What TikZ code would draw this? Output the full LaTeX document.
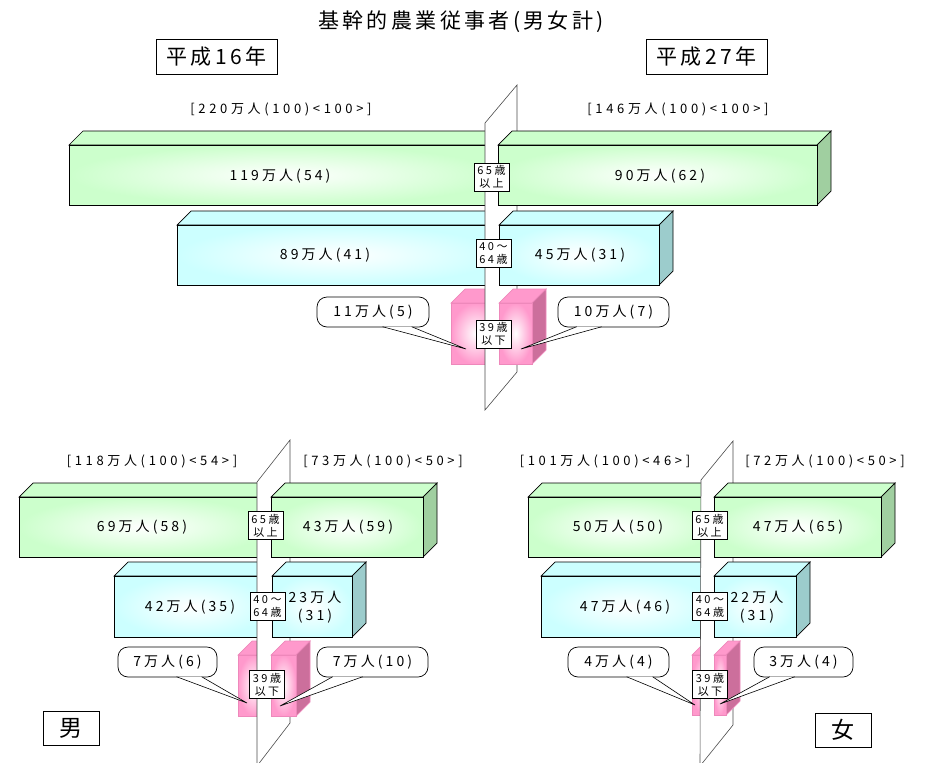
\documentclass[tikz,border=0pt]{standalone}
\usepackage{fontspec}
\usetikzlibrary{positioning}
\newfontfamily\jpfont{Noto Sans CJK JP}
\newfontfamily\jptitle[LetterSpace=16]{Noto Sans CJK JP}
\newfontfamily\jpspaced[LetterSpace=22]{Noto Sans CJK JP}
\newfontfamily\jpwide[LetterSpace=28]{Noto Sans CJK JP}
\definecolor{grnfront}{HTML}{CCFFCC}
\definecolor{grnside}{HTML}{A0CFA0}
\definecolor{grnline}{HTML}{000000}
\definecolor{blufront}{HTML}{CCFFFF}
\definecolor{bluside}{HTML}{9CCCCC}
\definecolor{bluline}{HTML}{000000}
\definecolor{pnkfront}{HTML}{FF99CC}
\definecolor{pnkside}{HTML}{CC6F9C}
\definecolor{pnkline}{HTML}{EE88BB}
% one bar of the chart: left x, right x, top y, bottom y, colour
\newcommand{\agebar}[5]{%
  \filldraw[draw=#5line, fill=#5front] (#1,#3) -- (#1+14,#3-14) -- (#2+14,#3-14) -- (#2,#3) -- cycle;
  \filldraw[draw=#5line, fill=#5side] (#2,#3) -- (#2+14,#3-14) -- (#2+14,#4-14) -- (#2,#4) -- cycle;
  \shadedraw[draw=#5line, inner color=white, outer color=#5front] (#1,#3) rectangle (#2,#4);
}
\begin{document}
\begin{tikzpicture}
			[x=1pt, y=-1pt, line width=0.7pt,
			% STYLES
			% The title style is used for the heading of the chart
			title/.style={font=\jptitle\fontsize{21}{24}\selectfont},
			% The year style is used for the boxed years
			year/.style={rectangle, draw, line width=0.8pt, inner sep=0pt, minimum width=121pt, minimum height=35pt, font=\jptitle\fontsize{21}{24}\selectfont},
			% The total style is used for the sums above each half
			total/.style={font=\jpwide\fontsize{13}{15}\selectfont},
			% The count style is used for the numbers in the bars
			count/.style={align=center, font=\jpspaced\fontsize{14}{18}\selectfont},
			% The agelbl style is used for the age groups on the plane
			agelbl/.style={rectangle, draw, fill=white, line width=0.6pt, inner sep=0pt, minimum width=35pt, minimum height=28pt, align=center, font=\jpspaced\fontsize{11}{13}\selectfont},
			% The callout style is used for the youngest group
			callout/.style={rectangle, draw, fill=white, rounded corners=10pt, inner sep=0pt, minimum height=30pt, font=\jpspaced\fontsize{14}{16}\selectfont},
			pointer/.style={draw, fill=white, line width=0.6pt},
			plane/.style={draw=black!70, fill=white, line width=0.6pt},
			% The sex style is used for the boxed sexes
			sex/.style={rectangle, draw, line width=0.8pt, inner sep=0pt, minimum width=56pt, minimum height=34pt, font=\jpfont\fontsize{23}{25}\selectfont}]
			\useasboundingbox (0,0) rectangle (932,763);
			% Draw headings
			\node [title] (title) at (461,22) {基幹的農業従事者(男女計)};
			\node [year] (year-h16) at (216.5,56.5) {平成16年};
			\node [year] (year-h27) at (706.5,56.5) {平成27年};
			%%%%%%%%%%%%%%%
			% Both sexes
			\agebar{69}{500}{145}{205}{grn}
			\agebar{177}{500}{225}{285}{blu}
			\agebar{451}{500}{303}{364}{pnk}
			\filldraw[plane] (485,123) -- (517,85) -- (517,372) -- (485,410) -- cycle;
			\agebar{498}{817}{145}{205}{grn}
			\agebar{499}{659}{225}{285}{blu}
			\agebar{499}{532}{303}{364}{pnk}
			\node [total] (total-h16) at (281,109) {[220万人(100)<100>]};
			\node [total] (total-h27) at (678,109) {[146万人(100)<100>]};
			\node [count] (old-h16) at (280,176) {119万人(54)};
			\node [count] (old-h27) at (660,176) {90万人(62)};
			\node [count] (mid-h16) at (325,255) {89万人(41)};
			\node [count] (mid-h27) at (580,255) {45万人(31)};
			\node [agelbl] (age-old) at (491.5,177) {65歳\\以上};
			\node [agelbl] (age-mid) at (493.5,253) {40～\\64歳};
			\node [agelbl] (age-young) at (493.5,334) {39歳\\以下};
			\node [callout, minimum width=112pt] (young-h16) at (373,312) {11万人(5)};
			\node [callout, minimum width=111pt] (young-h27) at (613.5,312) {10万人(7)};
			\coordinate (tip-h16) at (466,349);
			\coordinate (tip-h27) at (521,349);
			\filldraw[pointer] ([xshift=66pt,yshift=0.6pt]young-h16.south west) -- (tip-h16) -- ([xshift=95pt,yshift=0.6pt]young-h16.south west);
			\filldraw[pointer] ([xshift=19pt,yshift=0.6pt]young-h27.south west) -- (tip-h27) -- ([xshift=44pt,yshift=0.6pt]young-h27.south west);
			%%%%%%%%%%%%%%%
			% Men
			\agebar{19}{270}{497}{557}{grn}
			\agebar{114}{270}{576}{637}{blu}
			\agebar{238}{270}{655}{716}{pnk}
			\filldraw[plane] (257,482) -- (290,440) -- (290,723) -- (257,766) -- cycle;
			\agebar{271}{423}{497}{557}{grn}
			\agebar{272}{352}{576}{637}{blu}
			\agebar{271}{296}{655}{716}{pnk}
			\node [total] (total-m16) at (152,461) {[118万人(100)<54>]};
			\node [total] (total-m27) at (383,461) {[73万人(100)<50>]};
			\node [count] (old-m16) at (142,527) {69万人(58)};
			\node [count] (old-m27) at (348,527) {43万人(59)};
			\node [count] (mid-m16) at (190,607) {42万人(35)};
			\node [count] (mid-m27) at (315,607) {23万人\\(31)};
			\node [agelbl] (age-old-m) at (265.5,525.5) {65歳\\以上};
			\node [agelbl] (age-mid-m) at (267.5,606) {40～\\64歳};
			\node [agelbl] (age-young-m) at (267,684.5) {39歳\\以下};
			\node [callout, minimum width=99pt] (young-m16) at (167.5,662) {7万人(6)};
			\node [callout, minimum width=111pt] (young-m27) at (372.5,662) {7万人(10)};
			\coordinate (tip-m16) at (247,703);
			\coordinate (tip-m27) at (280,706);
			\filldraw[pointer] ([xshift=59pt,yshift=0.6pt]young-m16.south west) -- (tip-m16) -- ([xshift=84pt,yshift=0.6pt]young-m16.south west);
			\filldraw[pointer] ([xshift=16pt,yshift=0.6pt]young-m27.south west) -- (tip-m27) -- ([xshift=46pt,yshift=0.6pt]young-m27.south west);
			\node [sex] (men) at (71,728.5) {男};
			%%%%%%%%%%%%%%%
			% Women
			\agebar{528}{714}{497}{557}{grn}
			\agebar{541}{714}{576}{637}{blu}
			\agebar{692}{714}{655}{715}{pnk}
			\filldraw[plane] (701,480) -- (733,441) -- (733,725) -- (700,766) -- cycle;
			\agebar{714}{881}{497}{557}{grn}
			\agebar{714}{796}{576}{637}{blu}
			\agebar{714}{726}{655}{715}{pnk}
			\node [total] (total-f16) at (605,461) {[101万人(100)<46>]};
			\node [total] (total-f27) at (825,461) {[72万人(100)<50>]};
			\node [count] (old-f16) at (618,527) {50万人(50)};
			\node [count] (old-f27) at (798,527) {47万人(65)};
			\node [count] (mid-f16) at (625,607) {47万人(46)};
			\node [count] (mid-f27) at (757,607) {22万人\\(31)};
			\node [agelbl] (age-old-f) at (709.5,525.5) {65歳\\以上};
			\node [agelbl] (age-mid-f) at (710,606) {40～\\64歳};
			\node [agelbl] (age-young-f) at (710,684.5) {39歳\\以下};
			\node [callout, minimum width=101pt] (young-f16) at (618.5,662) {4万人(4)};
			\node [callout, minimum width=99pt] (young-f27) at (803.5,662) {3万人(4)};
			\coordinate (tip-f16) at (695,705);
			\coordinate (tip-f27) at (720,704);
			\filldraw[pointer] ([xshift=59pt,yshift=0.6pt]young-f16.south west) -- (tip-f16) -- ([xshift=85pt,yshift=0.6pt]young-f16.south west);
			\filldraw[pointer] ([xshift=16pt,yshift=0.6pt]young-f27.south west) -- (tip-f27) -- ([xshift=41pt,yshift=0.6pt]young-f27.south west);
			\node [sex] (women) at (843,730) {女};
			\end{tikzpicture}
\end{document}
